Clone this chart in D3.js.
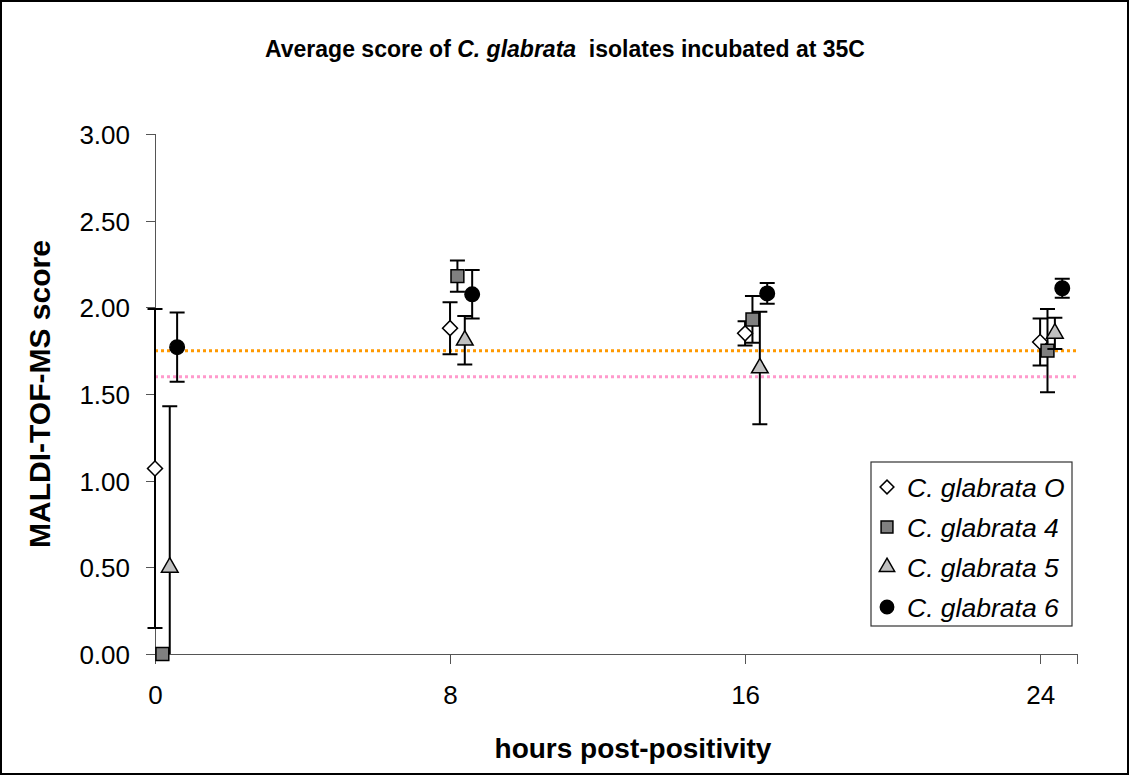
<!DOCTYPE html>
<meta charset="utf-8">
<style>
body { margin: 0; background: #fff; }
text { font-family: "Liberation Sans", Arial, sans-serif; }
.axis path, .axis line { stroke: #555; stroke-width: 1px; shape-rendering: crispEdges; }
.axis text { font-size: 26px; fill: #000; }
.errbar { stroke: #000; stroke-width: 2px; fill: none; }
</style>
<svg width="1130" height="776"></svg>
<script src="https://cdn.jsdelivr.net/npm/d3@7"></script>
<script>

// data
var seriesNames = ["C. glabrata O", "C. glabrata 4", "C. glabrata 5", "C. glabrata 6"];
var hoursO = [0, 8, 16, 24],       scoreO = [1.07, 1.88, 1.85, 1.80], errO = [0.92, 0.15, 0.07, 0.135];
var hours4 = [0.2, 8.2, 16.2, 24.2], score4 = [0.00, 2.18, 1.93, 1.75], err4 = [0, 0.09, 0.135, 0.24];
var hours5 = [0.4, 8.4, 16.4, 24.4], score5 = [0.50, 1.81, 1.65, 1.85], err5 = [0.93, 0.14, 0.325, 0.09];
var hours6 = [0.6, 8.6, 16.6, 24.6], score6 = [1.77, 2.075, 2.08, 2.11], err6 = [0.20, 0.14, 0.06, 0.055];
var xTicks = [0, 8, 16, 24];
var yTicks = [0, 0.5, 1, 1.5, 2, 2.5, 3];
var refLines = [1.75, 1.6];

var svg = d3.select("svg"),
    margin = {top: 134, right: 53, bottom: 122, left: 155},
    w = +svg.attr("width") - margin.left - margin.right,
    h = +svg.attr("height") - margin.top - margin.bottom;

// outer chart border
svg.append("rect")
    .attr("x", 1).attr("y", 1)
    .attr("width", 1127).attr("height", 773)
    .attr("fill", "none").attr("stroke", "#000").attr("stroke-width", 2);

var xScale = d3.scaleLinear().domain([0, 25]).range([0, w]),
    yScale = d3.scaleLinear().domain([0, 3]).range([h, 0]);

var g = svg.append("g").attr("transform", "translate(" + margin.left + "," + margin.top + ")");

// title with italic species name
var title = svg.append("text")
    .attr("x", 565).attr("y", 57)
    .attr("text-anchor", "middle")
    .attr("font-weight", "bold")
    .style("font-size", "23px");
title.append("tspan").text("Average score of ");
title.append("tspan").attr("font-style", "italic").text("C. glabrata");
title.append("tspan").text("\u00a0 isolates incubated at 35C");

// axes
g.append("g")
    .attr("class", "axis x-axis")
    .attr("transform", "translate(0," + h + ")")
    .call(d3.axisBottom(xScale).tickValues(xTicks).tickSizeOuter(0).tickSize(10).tickPadding(22));

g.append("g")
    .attr("class", "axis y-axis")
    .call(d3.axisLeft(yScale).tickValues(yTicks).tickFormat(d3.format(".2f")).tickSizeOuter(0).tickSize(9).tickPadding(16));

g.selectAll(".y-axis .tick text").attr("dy", "0.36em");

// axis titles
svg.append("text")
    .attr("x", 633).attr("y", 758)
    .attr("text-anchor", "middle")
    .attr("font-weight", "bold")
    .style("font-size", "28px")
    .text("hours post-positivity");

svg.append("text")
    .attr("transform", "translate(50,394) rotate(-90)")
    .attr("text-anchor", "middle")
    .attr("font-weight", "bold")
    .style("font-size", "30px")
    .text("MALDI-TOF-MS score");

// reference lines
var refColors = ["#FF9900", "#FF99CC"];
g.selectAll(".ref")
    .data(refLines)
    .enter().append("line")
    .attr("class", "ref")
    .attr("x1", 0).attr("x2", w)
    .attr("y1", function(d) { return yScale(d); })
    .attr("y2", function(d) { return yScale(d); })
    .attr("stroke", function(d, i) { return refColors[i]; })
    .attr("stroke-width", 3)
    .attr("stroke-dasharray", "3,3");

// series
function pack(xs, ys, es) {
  return xs.map(function(x, i) { return {x: x, y: ys[i], e: es[i]}; });
}
var series = [
  {name: seriesNames[0], shape: d3.symbolSquare, rot: 45, size: 112, fill: "#fff", values: pack(hoursO, scoreO, errO)},
  {name: seriesNames[1], shape: d3.symbolSquare, rot: 0, size: 165, fill: "#808080", values: pack(hours4, score4, err4)},
  {name: seriesNames[2], shape: d3.symbolTriangle, rot: 0, size: 120, fill: "#c0c0c0", values: pack(hours5, score5, err5)},
  {name: seriesNames[3], shape: d3.symbolCircle, rot: 0, size: 165, fill: "#000", values: pack(hours6, score6, err6)}
];

var capW = 7.5;
var sg = g.selectAll(".series")
    .data(series)
    .enter().append("g")
    .attr("class", "series");

sg.each(function(s) {
  var el = d3.select(this);
  var bars = el.selectAll(".eb")
      .data(s.values.filter(function(d) { return d.e > 0; }))
      .enter().append("g").attr("class", "eb");
  bars.append("path")
      .attr("class", "errbar")
      .attr("d", function(d) {
        var x = xScale(d.x),
            lo = yScale(Math.max(0, d.y - d.e)),
            hi = yScale(d.y + d.e);
        var p = "M" + x + "," + lo + "V" + hi + "M" + (x - capW) + "," + hi + "H" + (x + capW);
        if (d.y - d.e >= 0) p += "M" + (x - capW) + "," + lo + "H" + (x + capW);
        return p;
      });
  el.selectAll(".pt")
      .data(s.values)
      .enter().append("path")
      .attr("class", "pt")
      .attr("transform", function(d) { return "translate(" + xScale(d.x) + "," + yScale(d.y) + ") rotate(" + s.rot + ")"; })
      .attr("d", d3.symbol().type(s.shape).size(s.size))
      .attr("fill", s.fill)
      .attr("stroke", "#000")
      .attr("stroke-width", 1.5);
});

// legend
var legend = svg.append("g").attr("transform", "translate(871,462)");
legend.append("rect")
    .attr("width", 201).attr("height", 164)
    .attr("fill", "#fff").attr("stroke", "#333").attr("stroke-width", 1.2);

var li = legend.selectAll(".li")
    .data(series)
    .enter().append("g")
    .attr("class", "li")
    .attr("transform", function(d, i) { return "translate(0," + (25 + i * 40) + ")"; });

li.append("path")
    .attr("transform", function(d) { return "translate(16,0) rotate(" + d.rot + ")"; })
    .attr("d", function(d) { return d3.symbol().type(d.shape).size(d.size * 0.85)(); })
    .attr("fill", function(d) { return d.fill; })
    .attr("stroke", "#000")
    .attr("stroke-width", 1.5);

li.append("text")
    .attr("x", 36).attr("dy", "0.36em")
    .attr("font-style", "italic")
    .style("font-size", "26.5px")
    .text(function(d) { return d.name; });

</script>
